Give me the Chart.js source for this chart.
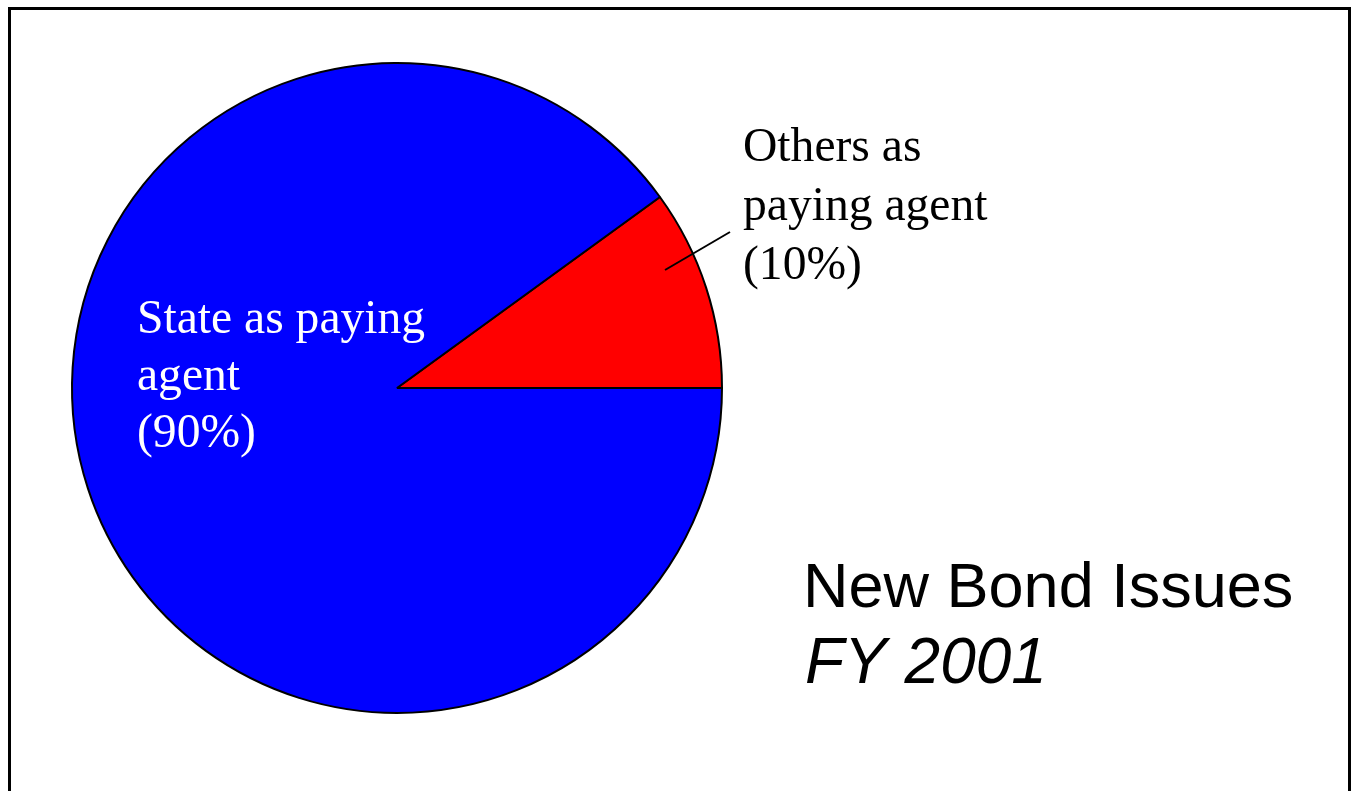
<!DOCTYPE html>
<html>
<head>
<meta charset="utf-8">
<script src="https://cdn.jsdelivr.net/npm/chart.js@4.4.1/dist/chart.umd.min.js"></script>
<style>
  html, body { margin: 0; padding: 0; background: #fff; overflow: hidden; width: 1353px; height: 791px; }
  #frame { position: absolute; left: 8px; top: 7px; width: 1343px; height: 900px; box-sizing: border-box; border: 3px solid #000; pointer-events: none; }
  #c { position: absolute; left: 0; top: 0; }
</style>
</head>
<body>
<canvas id="c" width="1353" height="791"></canvas>
<div id="frame"></div>
<script>
// ---- data ----
const categories = ["Others as paying agent", "State as paying agent"];
const shares = [10, 90];
const sliceColors = ["#ff0000", "#0000ff"];
const othersLabel = ["Others as", "paying agent", "(10%)"];
const stateLabel = ["State as paying", "agent", "(90%)"];
const titleLines = ["New Bond Issues", "FY 2001"];

const labelPlugin = {
  id: 'labels',
  afterDatasetsDraw(chart) {
    const ctx = chart.ctx;
    const arc = chart.getDatasetMeta(0).data[0];
    const cx = arc.x, cy = arc.y;
    ctx.save();
    // leader line for the small slice
    ctx.strokeStyle = '#000';
    ctx.lineWidth = 2;
    ctx.beginPath();
    ctx.moveTo(cx + 268, cy - 118);
    ctx.lineTo(cx + 333, cy - 156);
    ctx.stroke();
    ctx.textBaseline = 'alphabetic';
    ctx.textAlign = 'left';
    ctx.font = '47.6px "Liberation Serif", "Times New Roman", serif';
    ctx.fillStyle = '#000';
    othersLabel.forEach((t, i) => ctx.fillText(t, cx + 346, cy - 227 + i * 59));
    ctx.fillStyle = '#fff';
    stateLabel.forEach((t, i) => ctx.fillText(t, cx - 260, cy - 55 + i * 57));
    ctx.fillStyle = '#000';
    ctx.font = '63px "Liberation Sans", Arial, sans-serif';
    ctx.fillText(titleLines[0], 803, 607);
    ctx.font = 'italic 64px "Liberation Sans", Arial, sans-serif';
    ctx.fillText(titleLines[1], 805, 683);
    ctx.restore();
  }
};

new Chart(document.getElementById('c'), {
  type: 'pie',
  data: {
    labels: categories,
    datasets: [{
      data: shares,
      backgroundColor: sliceColors,
      borderColor: '#000',
      borderWidth: 2,
      radius: 325
    }]
  },
  options: {
    responsive: false,
    animation: false,
    devicePixelRatio: 1,
    rotation: 54,
    layout: { padding: { left: 0, right: 559, top: 0, bottom: 15 } },
    plugins: { legend: { display: false }, tooltip: { enabled: false }, title: { display: false } },
    events: []
  },
  plugins: [labelPlugin]
});
</script>
</body>
</html>
